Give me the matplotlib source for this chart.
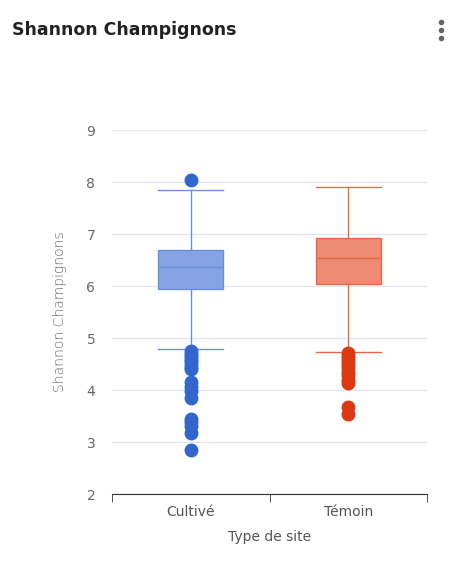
import matplotlib.pyplot as plt

categories = ["Cultivé", "Témoin"]
whislo = [4.79, 4.73]
q1 = [5.94, 6.04]
med = [6.37, 6.54]
q3 = [6.69, 6.92]
whishi = [7.85, 7.90]
fliers = [
    [8.04, 4.75, 4.7, 4.65, 4.6, 4.55, 4.5, 4.45, 4.4, 4.15, 4.05, 3.98, 3.85, 3.45, 3.38, 3.3, 3.18, 2.85],
    [4.72, 4.66, 4.6, 4.54, 4.48, 4.42, 4.35, 4.28, 4.2, 4.13, 3.68, 3.53],
]
box_colors = ["#86a4e3", "#ec8a73"]
edge_colors = ["#6b8fe0", "#e8694a"]
flier_colors = ["#3366cc", "#dc3912"]

fig = plt.figure(figsize=(4.72, 5.68), dpi=100)
ax = fig.add_axes([112 / 472, 1 - 494 / 568, 315 / 472, 364 / 568])

for i in range(2):
    stats = [dict(label=categories[i], whislo=whislo[i], q1=q1[i], med=med[i],
                  q3=q3[i], whishi=whishi[i], fliers=fliers[i])]
    ax.bxp(stats, positions=[i], widths=0.41, patch_artist=True,
           boxprops=dict(facecolor=box_colors[i], edgecolor=edge_colors[i], linewidth=1),
           medianprops=dict(color=edge_colors[i], linewidth=1),
           whiskerprops=dict(color=edge_colors[i], linewidth=1),
           capprops=dict(color=edge_colors[i], linewidth=1),
           capwidths=0.41,
           flierprops=dict(marker="o", markersize=9, markerfacecolor=flier_colors[i],
                           markeredgecolor=flier_colors[i]))

ax.set_xlim(-0.5, 1.5)
ax.set_ylim(2, 9)
ax.set_yticks(range(2, 10))
ax.set_xticks([0, 1])
ax.set_xticklabels(categories)
ax.set_xticks([-0.5, 0.5, 1.5], minor=True)
ax.tick_params(axis="x", which="major", length=0, labelsize=10, colors="#555555", pad=8)
ax.tick_params(axis="x", which="minor", length=6, color="#333333")
ax.tick_params(axis="y", length=0, labelsize=10, colors="#666666", pad=12)
ax.grid(axis="y", color="#e3e6f0", linewidth=1)
ax.set_axisbelow(True)
for s in ["top", "right", "left"]:
    ax.spines[s].set_visible(False)
ax.spines["bottom"].set_color("#333333")
ax.set_xlabel("Type de site", fontsize=10, color="#555555", labelpad=8)
ax.set_ylabel("Shannon Champignons", fontsize=10, color="#666666", labelpad=14,
              fontweight="light")

fig.text(12 / 472, 1 - 30 / 568, "Shannon Champignons", fontsize=12.5, fontweight="bold",
         color="#222222", va="center")
dots = fig.add_axes([435 / 472, 1 - 42 / 568, 12 / 472, 24 / 568])
dots.scatter([0, 0, 0], [0, 1, 2], s=9, color="#666666")
dots.set_xlim(-1, 1)
dots.set_ylim(-0.5, 2.5)
dots.axis("off")

fig.savefig("out.png", dpi=100)
